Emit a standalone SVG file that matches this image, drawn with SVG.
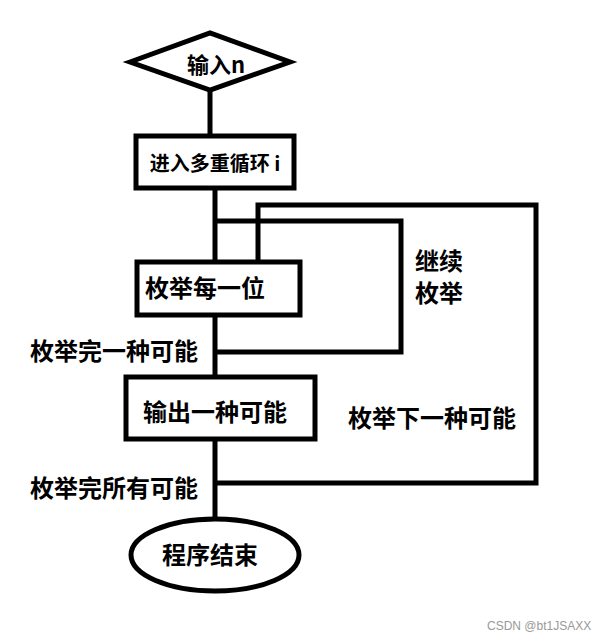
<svg xmlns="http://www.w3.org/2000/svg" width="612" height="640" viewBox="0 0 612 640">
<style>
.s{fill:#fff;stroke:#000;stroke-width:5}
.c{fill:none;stroke:#000;stroke-width:5}
text{font-family:"Noto Sans CJK SC","Liberation Sans",sans-serif;font-weight:bold;font-size:24px;fill:#000}
.m{text-anchor:middle;dominant-baseline:central}
</style>
<rect width="612" height="640" fill="#fff"/>
<g id="connectors">
<path class="c" d="M210 90V136M215 188V262M215 315V377M215 439V523"/>
<path class="c" d="M215 221H401V352H215"/>
<path class="c" d="M258 262V205H536V483H215"/>
</g>
<g id="n1"><polygon class="s" points="130,62 210,33 290,62 210,90"/><text class="m" x="216" y="63" style="font-size:22px">输入n</text></g>
<g id="n2"><rect class="s" x="136" y="136" width="158" height="52"/><text class="m" x="215" y="162" style="font-size:20px">进入多重循环 i</text></g>
<g id="n3"><rect class="s" x="137" y="262" width="163" height="53"/><text x="145" y="297">枚举每一位</text></g>
<g id="n4"><rect class="s" x="126" y="377" width="189" height="62"/><text class="m" x="215" y="410">输出一种可能</text></g>
<g id="n5"><ellipse class="s" cx="215" cy="555" rx="84" ry="36"/><text class="m" x="210" y="553">程序结束</text></g>
<g id="labels">
<text x="415" y="270">继续</text>
<text x="415" y="302">枚举</text>
<text x="30" y="360">枚举完一种可能</text>
<text x="348" y="427">枚举下一种可能</text>
<text x="30" y="497">枚举完所有可能</text>
<text x="487" y="630" style="font-weight:normal;font-size:12px;fill:#999;font-family:'Liberation Sans',sans-serif">CSDN @bt1JSAXX</text>
</g>
</svg>
